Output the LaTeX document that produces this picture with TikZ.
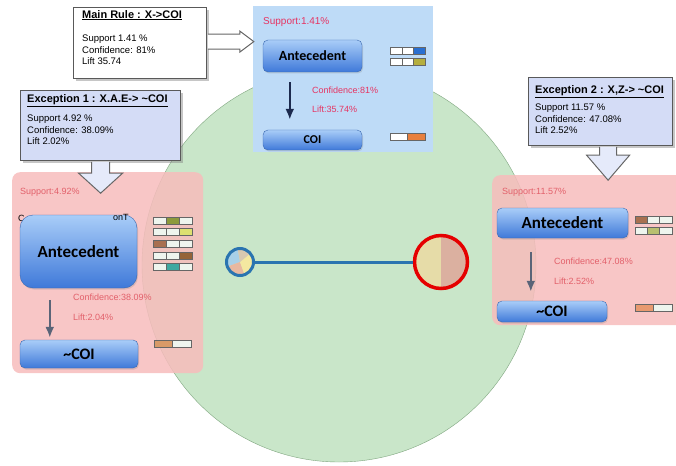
\documentclass[tikz,border=0pt]{standalone}
\usepackage{fontspec}
\setmainfont{Liberation Sans}
\newfontfamily\carlito{Carlito}
\usetikzlibrary{positioning,calc,shadows,arrows.meta}
\definecolor{vert}{HTML}{C9E6C9}
\definecolor{vertbord}{HTML}{7FA57F}
\definecolor{ciel}{HTML}{BEDBF7}
\definecolor{rose}{HTML}{F7BCBC}
\definecolor{lavande}{HTML}{D4DCF6}
\definecolor{rouge}{HTML}{E63462}
\definecolor{rougepale}{HTML}{E2606A}
\definecolor{bleuhaut}{HTML}{A9CDF8}
\definecolor{bleubas}{HTML}{3F79D9}
\definecolor{bleubord}{HTML}{3A68B0}
\definecolor{lien}{HTML}{2A74B0}
\definecolor{marine}{HTML}{1C2A4E}
\definecolor{ardoise}{HTML}{5A6478}
\definecolor{case}{HTML}{EEF5EE}
\definecolor{bleubarre}{HTML}{2A6FD0}
\definecolor{olive}{HTML}{B5AE3E}
\definecolor{orangevif}{HTML}{E8803E}
\definecolor{olivefonce}{HTML}{8C9A3C}
\definecolor{jaunevert}{HTML}{DDE070}
\definecolor{brun}{HTML}{A87050}
\definecolor{brunfonce}{HTML}{946438}
\definecolor{sarcelle}{HTML}{40A8A0}
\definecolor{tan}{HTML}{D89A68}
\definecolor{vertolive}{HTML}{B8C070}
\definecolor{saumon}{HTML}{E89A70}
\definecolor{piebleu}{HTML}{A8D0E8}
\definecolor{piepeche}{HTML}{E8B8A0}
\definecolor{piejaune}{HTML}{F4E8A0}
\definecolor{piebeige}{HTML}{D8C8B0}
\definecolor{demijaune}{HTML}{E6DCA8}
\definecolor{demirose}{HTML}{DBB0A0}
\tikzset{
  bouton/.style={draw=bleubord, rounded corners=5pt, top color=bleuhaut, bottom color=bleubas,
    inner sep=0pt, drop shadow={opacity=.25, shadow xshift=1pt, shadow yshift=-1.5pt}},
  panneau/.style={anchor=north west, inner sep=0pt},
  cadre/.style={draw=black!65, line width=1.2pt, anchor=north west, inner sep=0pt,
    drop shadow={opacity=.45, shadow xshift=2pt, shadow yshift=-2pt}},
  fleche/.style={draw=black!60, line width=1pt, line join=miter},
  info/.style={anchor=north west, align=left, font=\fontsize{9.5}{11.5}\selectfont, inner sep=0pt},
  mesure/.style={anchor=west, inner sep=0pt, font=\fontsize{9}{11}\selectfont},
  fin/.style={-{Latex[length=11pt,width=9pt]}, line width=2.2pt}
}
\newcommand{\barre}[3]{%
  \foreach \c [count=\i from 0] in {#3}
    \draw[black!60, fill=\c] ($(#1)+(\i*#2,0)$) rectangle ++(#2,7);}
\newcommand{\titre}[1]{{\fontsize{11}{13}\selectfont\bfseries\underline{#1}}}
\begin{document}
\begin{tikzpicture}[x=1pt,y=-1pt]
  \useasboundingbox (0,0) rectangle (676,465);
  \clip (0,0) rectangle (676,465);
  \node[circle, draw=vertbord, fill=vert, minimum size=394pt, inner sep=0pt] (cercle) at (339,265) {};
  \foreach \a/\b/\c in {-100/-200/piebleu, -200/-290/piepeche, -290/-400/piejaune, -400/-460/piebeige}
    \fill[\c] (240,262) -- ++(\a:13.5) arc[start angle=\a, end angle=\b, radius=13.5] -- cycle;
  \fill[demijaune] (441,262) -- ++(-90:26) arc[start angle=-90, end angle=-270, radius=26] -- cycle;
  \fill[demirose] (441,262) -- ++(-90:26) arc[start angle=-90, end angle=90, radius=26] -- cycle;
  \node[circle, draw=lien, line width=3pt, minimum size=27pt, inner sep=0pt] (petit) at (240,262) {};
  \node[circle, draw=red!90!black, line width=3.5pt, minimum size=53pt, inner sep=0pt] (gros) at (441,262) {};
  \draw[lien, line width=3pt] (petit) -- (gros);

  \node[panneau, fill=ciel, minimum width=180pt, minimum height=146pt] (haut) at (253,6) {};
  \node[panneau, rounded corners=8pt, fill=rose, fill opacity=.85, minimum width=191pt, minimum height=201pt] (gauche) at (12,172) {};
  \node[panneau, rounded corners=8pt, fill=rose, fill opacity=.85, minimum width=200pt, minimum height=150pt] (droite) at (492,175) {};

  \node[mesure, text=rouge, font=\fontsize{10}{12}\selectfont] (s0) at (263,22) {Support:1.41\%};
  \node[bouton, minimum width=99pt, minimum height=32pt, font=\carlito\bfseries\fontsize{14}{16}\selectfont] (a0) at (312.5,56) {Antecedent};
  \node[bouton, minimum width=99pt, minimum height=20pt, font=\carlito\bfseries\fontsize{12}{14}\selectfont] (c0) at (312.5,140) {COI};
  \draw[fin, marine, shorten <=10pt, shorten >=10pt] ([xshift=27pt]a0.south west) -- ([xshift=27pt]c0.north west);
  \node[mesure, text=rouge] (f0) at (312,90) {Confidence:81\%};
  \node[mesure, text=rouge] (l0) at (312,109) {Lift:35.74\%};
  \barre{390,47}{11.7}{white,white,bleubarre}
  \barre{390,58}{11.7}{white,white,olive}
  \barre{390,133}{17.5}{white,orangevif}

  \node[mesure, text=rougepale] (s1) at (20,192) {Support:4.92\%};
  \node[mesure] (k1) at (18,218) {C};
  \node[bouton, rounded corners=13pt, minimum width=117pt, minimum height=73pt, font=\carlito\bfseries\fontsize{17}{19}\selectfont] (a1) at (78.5,251.5) {Antecedent};
  \node[mesure] (k2) at (113,217) {onT};
  \node[bouton, minimum width=118pt, minimum height=28pt, font=\carlito\bfseries\fontsize{16}{18}\selectfont] (c1) at (79,354) {\textasciitilde COI};
  \draw[fin, ardoise, shorten <=12pt, shorten >=2pt] ([xshift=30pt]a1.south west) -- ([xshift=30pt]c1.north west);
  \node[mesure, text=rougepale] (f1) at (73,297) {Confidence:38.09\%};
  \node[mesure, text=rougepale] (l1) at (73,317) {Lift:2.04\%};
  \barre{153,217}{13}{case,olivefonce,case}
  \barre{153,228}{13}{case,case,jaunevert}
  \barre{153,240}{13}{brun,case,case}
  \barre{153,252}{13}{case,case,brunfonce}
  \barre{153,263}{13}{case,sarcelle,case}
  \barre{154,340}{18.5}{tan,case}

  \node[mesure, text=rougepale] (s2) at (502,192) {Support:11.57\%};
  \node[bouton, minimum width=131pt, minimum height=30pt, font=\carlito\bfseries\fontsize{17}{19}\selectfont] (a2) at (562.5,223) {Antecedent};
  \node[bouton, minimum width=110pt, minimum height=21pt, font=\carlito\bfseries\fontsize{16}{18}\selectfont] (c2) at (552,311.5) {\textasciitilde COI};
  \draw[fin, ardoise, shorten <=14pt, shorten >=9pt] ([xshift=34pt]a2.south west) -- ([xshift=34pt]c2.north west);
  \node[mesure, text=rougepale] (f2) at (554,261) {Confidence:47.08\%};
  \node[mesure, text=rougepale] (l2) at (554,281) {Lift:2.52\%};
  \barre{635,216}{12.3}{brun,case,case}
  \barre{635,227}{12.3}{case,vertolive,case}
  \barre{635,304}{18.5}{saumon,case}

  \node[cadre, fill=white, minimum width=133pt, minimum height=71pt] (regle) at (73,7) {};
  \node[info] (t0) at ([shift={(9,3)}]regle.north west) {\titre{Main Rule : X->COI}\\[12pt]Support 1.41 \%\\Confidence: 81\%\\Lift 35.74};
  \draw[fleche, fill=white] ([shift={(0.6,-9)}]regle.east) -- ++(32,0) -- ++(0,-3) -- ++(14,10.5) -- ++(-14,10.5) -- ++(0,-3) -- ++(-32,0);

  \node[cadre, fill=lavande, minimum width=160pt, minimum height=70pt] (exc1) at (20,90) {};
  \node[info] (t1) at ([shift={(7,4)}]exc1.north west) {\titre{Exception 1 : X.A.E-> \textasciitilde COI}\\[8pt]Support 4.92 \%\\Confidence: 38.09\%\\Lift 2.02\%};
  \draw[fleche, fill=lavande!60!white] ([shift={(-9,0.6)}]exc1.south) -- ++(0,11.4) -- ++(-13,0) -- ++(22,20) -- ++(22,-20) -- ++(-13,0) -- ++(0,-11.4);

  \node[cadre, fill=lavande, minimum width=144pt, minimum height=68pt] (exc2) at (528,77) {};
  \node[info] (t2) at ([shift={(7,8)}]exc2.north west) {\titre{Exception 2 : X,Z-> \textasciitilde COI}\\[6pt]Support 11.57 \%\\Confidence: 47.08\%\\Lift 2.52\%};
  \draw[fleche, fill=lavande!60!white] ([shift={(-1,0.6)}]exc2.south) -- ++(0,8.4) -- ++(-13,0) -- ++(21.5,25) -- ++(21.5,-25) -- ++(-13,0) -- ++(0,-8.4);
\end{tikzpicture}
\end{document}
